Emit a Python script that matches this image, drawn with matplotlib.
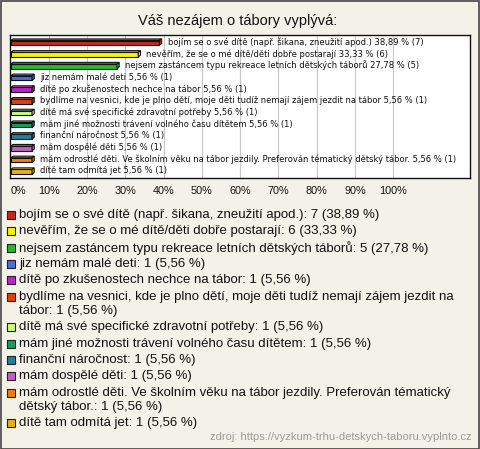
import matplotlib
matplotlib.use("Agg")
import matplotlib.pyplot as plt
from matplotlib.patches import Rectangle, Polygon

plt.rcParams['font.family'] = ['Liberation Sans', 'DejaVu Sans']

title = "Váš nezájem o tábory vyplývá:"
categories = [
    "bojím se o své dítě (např. šikana, zneužití apod.)",
    "nevěřím, že se o mé dítě/děti dobře postarají",
    "nejsem zastáncem typu rekreace letních dětských táborů",
    "jiz nemám malé deti",
    "dítě po zkušenostech nechce na tábor",
    "bydlíme na vesnici, kde je plno dětí, moje děti tudíž nemají zájem jezdit na tábor",
    "dítě má své specifické zdravotní potřeby",
    "mám jiné možnosti trávení volného času dítětem",
    "finanční náročnost",
    "mám dospělé děti",
    "mám odrostlé děti. Ve školním věku na tábor jezdily. Preferován tématický dětský tábor.",
    "dítě tam odmítá jet",
]
legend_labels = [
    "bojím se o své dítě (např. šikana, zneužití apod.): 7 (38,89 %)",
    "nevěřím, že se o mé dítě/děti dobře postarají: 6 (33,33 %)",
    "nejsem zastáncem typu rekreace letních dětských táborů: 5 (27,78 %)",
    "jiz nemám malé deti: 1 (5,56 %)",
    "dítě po zkušenostech nechce na tábor: 1 (5,56 %)",
    "bydlíme na vesnici, kde je plno dětí, moje děti tudíž nemají zájem jezdit na\ntábor: 1 (5,56 %)",
    "dítě má své specifické zdravotní potřeby: 1 (5,56 %)",
    "mám jiné možnosti trávení volného času dítětem: 1 (5,56 %)",
    "finanční náročnost: 1 (5,56 %)",
    "mám dospělé děti: 1 (5,56 %)",
    "mám odrostlé děti. Ve školním věku na tábor jezdily. Preferován tématický\ndětský tábor.: 1 (5,56 %)",
    "dítě tam odmítá jet: 1 (5,56 %)",
]
counts = [7, 6, 5, 1, 1, 1, 1, 1, 1, 1, 1, 1]
percents = [38.89, 33.33, 27.78, 5.56, 5.56, 5.56, 5.56, 5.56, 5.56, 5.56, 5.56, 5.56]
colors = ["#c8281c", "#fff000", "#22bb22", "#4a6fe0", "#c020d0", "#e04010",
          "#c8ff80", "#10a060", "#2080a0", "#c060c8", "#f08010", "#e8b010"]
top_colors = ["#e86050", "#ffff90", "#70e070", "#90a8ff", "#e070f0", "#ff8050",
              "#e8ffc0", "#50d090", "#60b0d0", "#e0a0e8", "#ffb060", "#ffd860"]
xticks = [0, 10, 20, 30, 40, 50, 60, 70, 80, 90, 100]
source = "zdroj: https://vyzkum-trhu-detskych-taboru.vyplnto.cz"

W, H = 480, 449
bg = "#f4f2e8"
fig = plt.figure(figsize=(W / 100, H / 100), dpi=100, facecolor=bg)

fig.patches.append(Rectangle((0.5 / W, 0.5 / H), 1 - 1.5 / W, 1 - 1.5 / H,
                             transform=fig.transFigure, fill=False,
                             edgecolor="#444444", lw=1.2))

fig.text(238 / W, 1 - 21 / H, title, ha="center", va="center", fontsize=10.5, color="#111111")

ax_l, ax_r, ax_t, ax_b = 10, 470, 35, 178
ax = fig.add_axes([ax_l / W, 1 - ax_b / H, (ax_r - ax_l) / W, (ax_b - ax_t) / H])
ax.set_facecolor("white")
n = len(percents)
xmax = 120.1
ax.set_xlim(-0.2, xmax)
ax.set_ylim(n - 1 + 0.6, -0.6)
for t in xticks[1:]:
    ax.axvline(t, color="#c8c8c8", lw=0.8, zorder=0)
ax.set_xticks(xticks)
ax.set_xticklabels([f"{t}%" for t in xticks], fontsize=7.8, color="#111111")
ax.get_xticklabels()[0].set_horizontalalignment("left")
ax.tick_params(axis="x", length=0, pad=6)
ax.set_yticks([])
for s in ax.spines.values():
    s.set_linewidth(1.0)
    s.set_color("#111111")

px_x = (xmax + 0.2) / (ax_r - ax_l)
px_y = (n + 0.2) / (ax_b - ax_t)
dx = 2.2 * px_x
dy = 1.6 * px_y
hh = 2.3 * px_y
for i, (v, c, tc) in enumerate(zip(percents, colors, top_colors)):
    y = i
    ax.add_patch(Rectangle((0, y - hh + dy / 2), v, 2 * hh, facecolor=c,
                           edgecolor="#111111", lw=0.8, zorder=3))
    ax.add_patch(Polygon([(0, y - hh + dy / 2), (dx, y - hh - dy / 2),
                          (v + dx, y - hh - dy / 2), (v, y - hh + dy / 2)],
                         closed=True, facecolor=tc, edgecolor="#111111", lw=0.8, zorder=3))
    ax.add_patch(Polygon([(v, y - hh + dy / 2), (v + dx, y - hh - dy / 2),
                          (v + dx, y + hh - dy / 2), (v, y + hh + dy / 2)],
                         closed=True, facecolor=c, edgecolor="#111111", lw=0.8, zorder=3))
    pct = f"{v:.2f}".replace(".", ",")
    ax.text(v + dx + 6 * px_x, y, f"{categories[i]} {pct} % ({counts[i]})",
            va="center", ha="left", fontsize=6.0, family=["DejaVu Sans"],
            color="#111111", zorder=4)

# legend
y = 215
for lab, c in zip(legend_labels, colors):
    fig.patches.append(Rectangle((7 / W, 1 - (y + 4) / H), 8 / W, 8 / H, transform=fig.transFigure,
                                 facecolor=c, edgecolor="#222222", lw=0.8))
    for k, line in enumerate(lab.split("\n")):
        fig.text(19 / W, 1 - (y + k * 14.5) / H, line, ha="left", va="center",
                 fontsize=9.5, color="#111111")
    y += 16.3 + 14.5 * lab.count("\n")

fig.text(472 / W, 1 - 437 / H, source, ha="right", va="center", fontsize=8.0, color="#999999")

fig.savefig("out.png", dpi=100, facecolor=bg)
